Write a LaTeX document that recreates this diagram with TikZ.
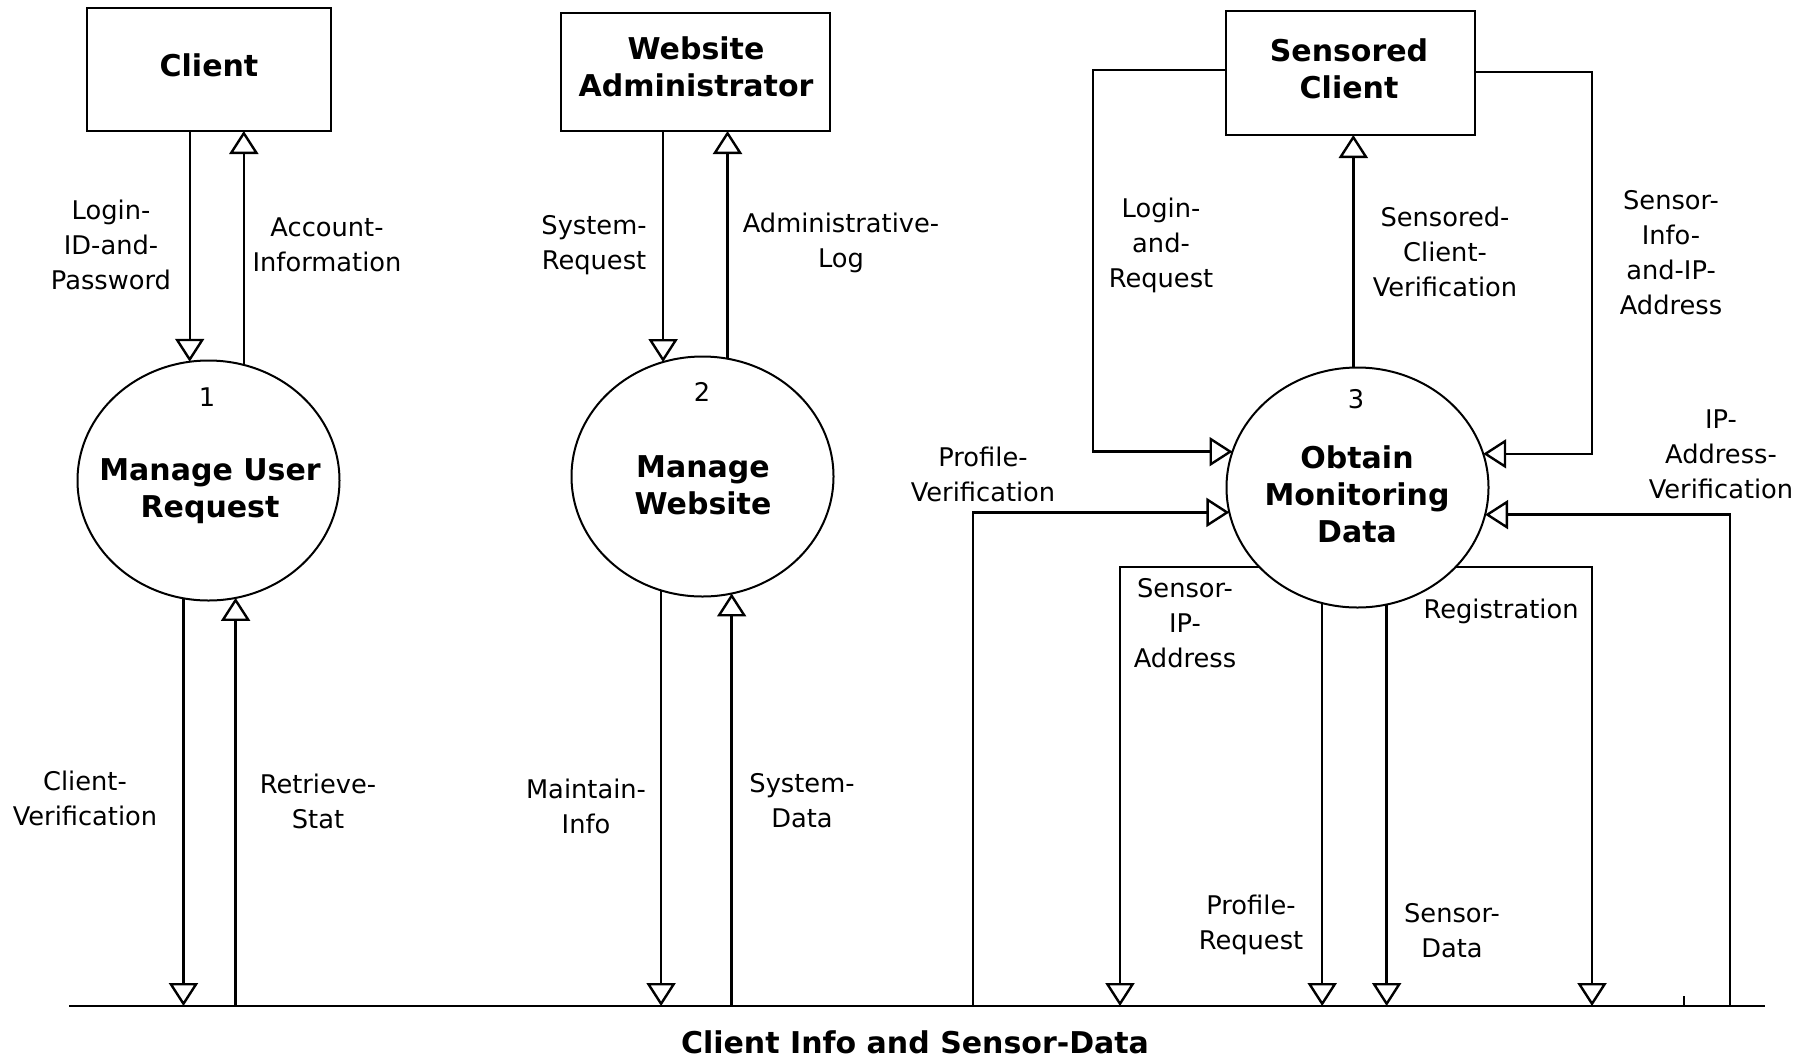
\documentclass[tikz,border=0pt]{standalone}
\usepackage{fontspec}
\setmainfont{DejaVu Sans}
\usetikzlibrary{shapes.geometric,arrows.meta}
\newcommand\labfont{\fontsize{25.7}{35}\selectfont}
\newcommand\bigbold{\fontsize{30}{37}\selectfont\bfseries}
\begin{document}
\begin{tikzpicture}[x=1pt,y=-1pt,
  entity/.style={draw,line width=2.4pt,rectangle,inner sep=0pt,outer sep=0pt},
  process/.style={draw,line width=2pt,ellipse,minimum width=262pt,minimum height=240pt,inner sep=0pt,outer sep=0pt},
  ptitle/.style={font=\bigbold,align=center,inner sep=0pt},
  pnum/.style={font=\labfont,inner sep=0pt},
  flowlabel/.style={font=\labfont,align=center,inner sep=0pt},
  flow/.style={line width=2.4pt,-{Triangle[open,length=23pt,width=29pt]}},
  storeline/.style={line width=2.4pt}]
\fill[white] (0,0) rectangle (1812,1058);
\useasboundingbox (0,0) rectangle (1812,1058);

% external entities
\node[entity,minimum width=244pt,minimum height=123pt] (client) at (209,69.5) {};
\node[entity,minimum width=269pt,minimum height=118pt] (admin) at (695.5,72) {};
\node[entity,minimum width=249pt,minimum height=124pt] (sc) at (1350.5,73) {};
\node[ptitle] (tc) at (209,65.5) {Client};
\node[ptitle] (ta) at (696,66.5) {Website\\Administrator};
\node[ptitle] (ts) at (1349,69) {Sensored\\Client};

% processes
\node[process] (p1) at (208.5,480.5) {};
\node[process] (p2) at (702.5,476.5) {};
\node[process] (p3) at (1357.5,487.5) {};
\node[pnum] (n1) at (207,397) {1};
\node[pnum] (n2) at (702,392) {2};
\node[pnum] (n3) at (1356,399) {3};
\node[ptitle] (t1) at (210,491.5) {Manage User\\Request};
\node[ptitle] (t2) at (703,485) {Manage\\Website};
\node[ptitle] (t3) at (1357,494) {Obtain\\Monitoring\\Data};

% data store
\coordinate (st) at (69,1006);
\coordinate (stR) at (1765,1006);
\draw[storeline] (st) -- (stR);
\draw[storeline] (1684,996) -- (1684,1006);
\node[ptitle] (stlabel) at (915,1042) {Client Info and Sensor-Data};
\coordinate (pv) at (973,1006);
\coordinate (iv) at (1730,1006);
\coordinate (sip) at (1120,1006);
\coordinate (reg) at (1592,1006);

% process 1 flows
\draw[flow] (p1.99.81 |- client.south) -- (p1.99.81);
\draw[flow] (p1.73.65) -- (p1.73.65 |- client.south);
\draw[flow] (p1.258.02) -- (p1.258.02 |- st);
\draw[flow] (p1.283.92 |- st) -- (p1.283.92);

% process 2 flows
\draw[flow] (p2.109.29 |- admin.south) -- (p2.109.29);
\draw[flow] (p2.78.74) -- (p2.78.74 |- admin.south);
\draw[flow] (p2.250.71) -- (p2.250.71 |- st);
\draw[flow] (p2.284.16 |- st) -- (p2.284.16);

% process 3 flows
\draw[flow] (p3.92.15) -- (p3.92.15 |- sc.south);
\draw[flow] ([yshift=3pt]sc.west) -- ++(-133,0) |- (p3.164.16);
\draw[flow] ([yshift=1pt]sc.east) -- ++(117,0) |- (p3.15.84);
\draw[flow] (pv) |- (p3.191.27);
\draw[flow] (iv) |- (p3.348.73);
\draw[flow] (p3.219.65) -| (sip);
\draw[flow] (p3.321.61) -| (reg);
\draw[flow] (p3.253.89) -- (p3.253.89 |- st);
\draw[flow] (p3.284.16) -- (p3.284.16 |- st);

% labels
\node[flowlabel] (l1) at (111,245) {Login-\\ID-and-\\Password};
\node[flowlabel] (l2) at (327,245) {Account-\\Information};
\node[flowlabel] (l3) at (594,245) {System-\\Request};
\node[flowlabel] (l4) at (841,243) {Administrative-\\Log};
\node[flowlabel] (l5) at (85,798) {Client-\\Verification};
\node[flowlabel] (l6) at (318,801) {Retrieve-\\Stat};
\node[flowlabel] (l7) at (586,806) {Maintain-\\Info};
\node[flowlabel] (l8) at (802,801) {System-\\Data};
\node[flowlabel] (l9) at (1161,245) {Login-\\and-\\Request};
\node[flowlabel] (l10) at (1445,252) {Sensored-\\Client-\\Verification};
\node[flowlabel] (l11) at (1671,253) {Sensor-\\Info-\\and-IP-\\Address};
\node[flowlabel] (l12) at (983,474) {Profile-\\Verification};
\node[flowlabel] (l13) at (1721,454) {IP-\\Address-\\Verification};
\node[flowlabel] (l14) at (1185,623) {Sensor-\\IP-\\Address};
\node[flowlabel] (l15) at (1501,611) {Registration};
\node[flowlabel] (l16) at (1251,925) {Profile-\\Request};
\node[flowlabel] (l17) at (1452,931) {Sensor-\\Data};
\end{tikzpicture}
\end{document}
